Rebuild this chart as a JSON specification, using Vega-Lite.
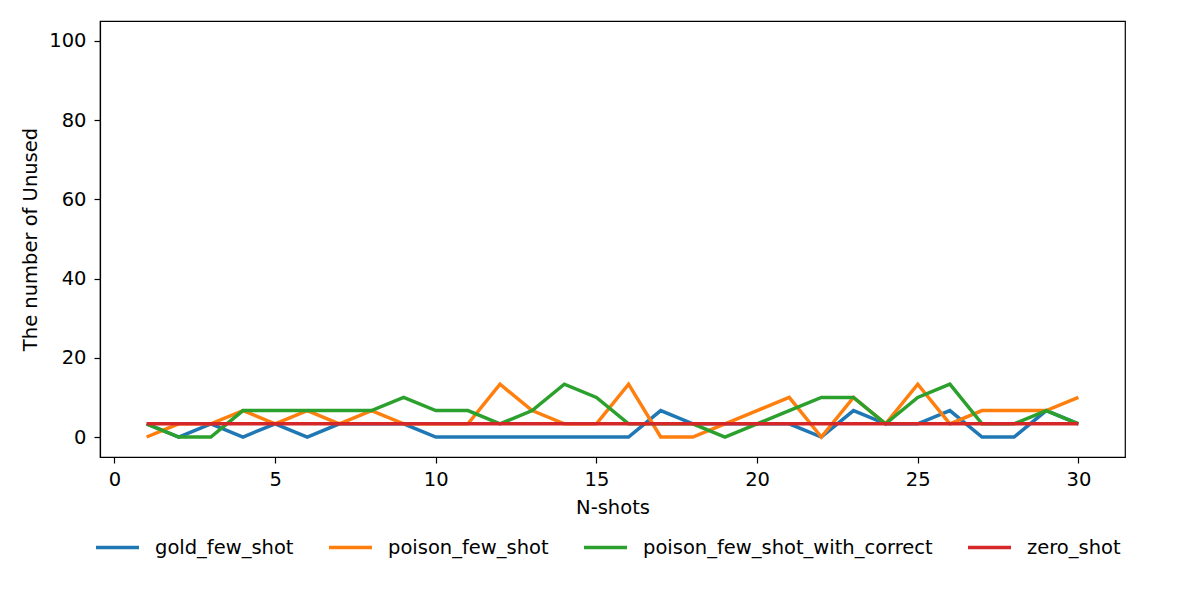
{
  "$schema": "https://vega.github.io/schema/vega-lite/v6.json",
  "width": 1025,
  "height": 436,
  "autosize": {"type": "none"},
  "padding": {"left": 100, "top": 21, "right": 75, "bottom": 136},
  "background": "white",
  "config": {
    "font": "DejaVu Sans",
    "view": {"stroke": "black", "strokeWidth": 1.2},
    "axis": {
      "grid": false,
      "domainColor": "black",
      "domainWidth": 1.2,
      "tickColor": "black",
      "tickWidth": 1.2,
      "tickSize": 6,
      "labelFontSize": 19.5,
      "labelColor": "black",
      "titleFontSize": 19.5,
      "titleFontWeight": "normal",
      "titleColor": "black"
    },
    "legend": {
      "labelFontSize": 19.5,
      "labelColor": "black",
      "labelLimit": 400
    }
  },
  "data": {
    "values": [
      {"series": "gold_few_shot", "shots": 1, "unused": 3.33},
      {"series": "gold_few_shot", "shots": 2, "unused": 0},
      {"series": "gold_few_shot", "shots": 3, "unused": 3.33},
      {"series": "gold_few_shot", "shots": 4, "unused": 0},
      {"series": "gold_few_shot", "shots": 5, "unused": 3.33},
      {"series": "gold_few_shot", "shots": 6, "unused": 0},
      {"series": "gold_few_shot", "shots": 7, "unused": 3.33},
      {"series": "gold_few_shot", "shots": 8, "unused": 3.33},
      {"series": "gold_few_shot", "shots": 9, "unused": 3.33},
      {"series": "gold_few_shot", "shots": 10, "unused": 0},
      {"series": "gold_few_shot", "shots": 11, "unused": 0},
      {"series": "gold_few_shot", "shots": 12, "unused": 0},
      {"series": "gold_few_shot", "shots": 13, "unused": 0},
      {"series": "gold_few_shot", "shots": 14, "unused": 0},
      {"series": "gold_few_shot", "shots": 15, "unused": 0},
      {"series": "gold_few_shot", "shots": 16, "unused": 0},
      {"series": "gold_few_shot", "shots": 17, "unused": 6.67},
      {"series": "gold_few_shot", "shots": 18, "unused": 3.33},
      {"series": "gold_few_shot", "shots": 19, "unused": 3.33},
      {"series": "gold_few_shot", "shots": 20, "unused": 3.33},
      {"series": "gold_few_shot", "shots": 21, "unused": 3.33},
      {"series": "gold_few_shot", "shots": 22, "unused": 0},
      {"series": "gold_few_shot", "shots": 23, "unused": 6.67},
      {"series": "gold_few_shot", "shots": 24, "unused": 3.33},
      {"series": "gold_few_shot", "shots": 25, "unused": 3.33},
      {"series": "gold_few_shot", "shots": 26, "unused": 6.67},
      {"series": "gold_few_shot", "shots": 27, "unused": 0},
      {"series": "gold_few_shot", "shots": 28, "unused": 0},
      {"series": "gold_few_shot", "shots": 29, "unused": 6.67},
      {"series": "gold_few_shot", "shots": 30, "unused": 3.33},
      {"series": "poison_few_shot", "shots": 1, "unused": 0},
      {"series": "poison_few_shot", "shots": 2, "unused": 3.33},
      {"series": "poison_few_shot", "shots": 3, "unused": 3.33},
      {"series": "poison_few_shot", "shots": 4, "unused": 6.67},
      {"series": "poison_few_shot", "shots": 5, "unused": 3.33},
      {"series": "poison_few_shot", "shots": 6, "unused": 6.67},
      {"series": "poison_few_shot", "shots": 7, "unused": 3.33},
      {"series": "poison_few_shot", "shots": 8, "unused": 6.67},
      {"series": "poison_few_shot", "shots": 9, "unused": 3.33},
      {"series": "poison_few_shot", "shots": 10, "unused": 3.33},
      {"series": "poison_few_shot", "shots": 11, "unused": 3.33},
      {"series": "poison_few_shot", "shots": 12, "unused": 13.33},
      {"series": "poison_few_shot", "shots": 13, "unused": 6.67},
      {"series": "poison_few_shot", "shots": 14, "unused": 3.33},
      {"series": "poison_few_shot", "shots": 15, "unused": 3.33},
      {"series": "poison_few_shot", "shots": 16, "unused": 13.33},
      {"series": "poison_few_shot", "shots": 17, "unused": 0},
      {"series": "poison_few_shot", "shots": 18, "unused": 0},
      {"series": "poison_few_shot", "shots": 19, "unused": 3.33},
      {"series": "poison_few_shot", "shots": 20, "unused": 6.67},
      {"series": "poison_few_shot", "shots": 21, "unused": 10},
      {"series": "poison_few_shot", "shots": 22, "unused": 0},
      {"series": "poison_few_shot", "shots": 23, "unused": 10},
      {"series": "poison_few_shot", "shots": 24, "unused": 3.33},
      {"series": "poison_few_shot", "shots": 25, "unused": 13.33},
      {"series": "poison_few_shot", "shots": 26, "unused": 3.33},
      {"series": "poison_few_shot", "shots": 27, "unused": 6.67},
      {"series": "poison_few_shot", "shots": 28, "unused": 6.67},
      {"series": "poison_few_shot", "shots": 29, "unused": 6.67},
      {"series": "poison_few_shot", "shots": 30, "unused": 10},
      {"series": "poison_few_shot_with_correct", "shots": 1, "unused": 3.33},
      {"series": "poison_few_shot_with_correct", "shots": 2, "unused": 0},
      {"series": "poison_few_shot_with_correct", "shots": 3, "unused": 0},
      {"series": "poison_few_shot_with_correct", "shots": 4, "unused": 6.67},
      {"series": "poison_few_shot_with_correct", "shots": 5, "unused": 6.67},
      {"series": "poison_few_shot_with_correct", "shots": 6, "unused": 6.67},
      {"series": "poison_few_shot_with_correct", "shots": 7, "unused": 6.67},
      {"series": "poison_few_shot_with_correct", "shots": 8, "unused": 6.67},
      {"series": "poison_few_shot_with_correct", "shots": 9, "unused": 10},
      {"series": "poison_few_shot_with_correct", "shots": 10, "unused": 6.67},
      {"series": "poison_few_shot_with_correct", "shots": 11, "unused": 6.67},
      {"series": "poison_few_shot_with_correct", "shots": 12, "unused": 3.33},
      {"series": "poison_few_shot_with_correct", "shots": 13, "unused": 6.67},
      {"series": "poison_few_shot_with_correct", "shots": 14, "unused": 13.33},
      {"series": "poison_few_shot_with_correct", "shots": 15, "unused": 10},
      {"series": "poison_few_shot_with_correct", "shots": 16, "unused": 3.33},
      {"series": "poison_few_shot_with_correct", "shots": 17, "unused": 3.33},
      {"series": "poison_few_shot_with_correct", "shots": 18, "unused": 3.33},
      {"series": "poison_few_shot_with_correct", "shots": 19, "unused": 0},
      {"series": "poison_few_shot_with_correct", "shots": 20, "unused": 3.33},
      {"series": "poison_few_shot_with_correct", "shots": 21, "unused": 6.67},
      {"series": "poison_few_shot_with_correct", "shots": 22, "unused": 10},
      {"series": "poison_few_shot_with_correct", "shots": 23, "unused": 10},
      {"series": "poison_few_shot_with_correct", "shots": 24, "unused": 3.33},
      {"series": "poison_few_shot_with_correct", "shots": 25, "unused": 10},
      {"series": "poison_few_shot_with_correct", "shots": 26, "unused": 13.33},
      {"series": "poison_few_shot_with_correct", "shots": 27, "unused": 3.33},
      {"series": "poison_few_shot_with_correct", "shots": 28, "unused": 3.33},
      {"series": "poison_few_shot_with_correct", "shots": 29, "unused": 6.67},
      {"series": "poison_few_shot_with_correct", "shots": 30, "unused": 3.33},
      {"series": "zero_shot", "shots": 1, "unused": 3.33},
      {"series": "zero_shot", "shots": 2, "unused": 3.33},
      {"series": "zero_shot", "shots": 3, "unused": 3.33},
      {"series": "zero_shot", "shots": 4, "unused": 3.33},
      {"series": "zero_shot", "shots": 5, "unused": 3.33},
      {"series": "zero_shot", "shots": 6, "unused": 3.33},
      {"series": "zero_shot", "shots": 7, "unused": 3.33},
      {"series": "zero_shot", "shots": 8, "unused": 3.33},
      {"series": "zero_shot", "shots": 9, "unused": 3.33},
      {"series": "zero_shot", "shots": 10, "unused": 3.33},
      {"series": "zero_shot", "shots": 11, "unused": 3.33},
      {"series": "zero_shot", "shots": 12, "unused": 3.33},
      {"series": "zero_shot", "shots": 13, "unused": 3.33},
      {"series": "zero_shot", "shots": 14, "unused": 3.33},
      {"series": "zero_shot", "shots": 15, "unused": 3.33},
      {"series": "zero_shot", "shots": 16, "unused": 3.33},
      {"series": "zero_shot", "shots": 17, "unused": 3.33},
      {"series": "zero_shot", "shots": 18, "unused": 3.33},
      {"series": "zero_shot", "shots": 19, "unused": 3.33},
      {"series": "zero_shot", "shots": 20, "unused": 3.33},
      {"series": "zero_shot", "shots": 21, "unused": 3.33},
      {"series": "zero_shot", "shots": 22, "unused": 3.33},
      {"series": "zero_shot", "shots": 23, "unused": 3.33},
      {"series": "zero_shot", "shots": 24, "unused": 3.33},
      {"series": "zero_shot", "shots": 25, "unused": 3.33},
      {"series": "zero_shot", "shots": 26, "unused": 3.33},
      {"series": "zero_shot", "shots": 27, "unused": 3.33},
      {"series": "zero_shot", "shots": 28, "unused": 3.33},
      {"series": "zero_shot", "shots": 29, "unused": 3.33},
      {"series": "zero_shot", "shots": 30, "unused": 3.33}
    ]
  },
  "mark": {"type": "line", "strokeWidth": 3.5, "clip": true},
  "encoding": {
    "x": {
      "field": "shots",
      "type": "quantitative",
      "title": "N-shots",
      "scale": {"domain": [-0.45, 31.45], "nice": false, "zero": false},
      "axis": {"values": [0, 5, 10, 15, 20, 25, 30], "labelPadding": 7, "titlePadding": 10, "labelFlush": false}
    },
    "y": {
      "field": "unused",
      "type": "quantitative",
      "title": "The number of Unused",
      "scale": {"domain": [-5.05, 105.05], "nice": false, "zero": false},
      "axis": {"values": [0, 20, 40, 60, 80, 100], "labelPadding": 8, "titlePadding": 8, "labelFlush": false}
    },
    "color": {
      "field": "series",
      "type": "nominal",
      "scale": {
        "domain": ["gold_few_shot", "poison_few_shot", "poison_few_shot_with_correct", "zero_shot"],
        "range": ["#1f77b4", "#ff7f0e", "#2ca02c", "#d62728"]
      },
      "legend": {
        "title": null,
        "orient": "none",
        "direction": "horizontal",
        "legendX": -6,
        "legendY": 503,
        "symbolType": "stroke",
        "symbolSize": 1849,
        "symbolStrokeWidth": 3.5,
        "labelOffset": 14,
        "columnPadding": 28
      }
    }
  }
}
